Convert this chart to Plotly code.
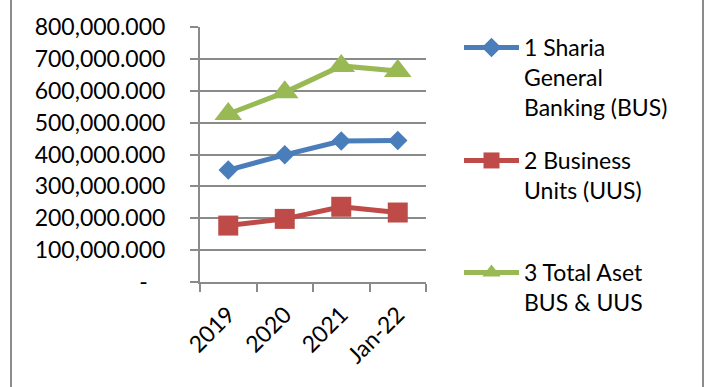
import plotly.graph_objects as go

categories = ["2019", "2020", "2021", "Jan-22"]
bus = [351e6, 399e6, 442e6, 444e6]
uus = [177e6, 198e6, 236e6, 218e6]
total = [527e6, 595e6, 678e6, 662e6]
series_names = ["1 Sharia<br>General<br>Banking (BUS)", "2 Business<br>Units (UUS)", "3 Total Aset<br>BUS & UUS"]
ytickvals = [0, 100e6, 200e6, 300e6, 400e6, 500e6, 600e6, 700e6, 800e6]
yticktext = ["-\u00a0\u00a0\u00a0", "100,000.000", "200,000.000", "300,000.000", "400,000.000",
             "500,000.000", "600,000.000", "700,000.000", "800,000.000"]

W, H = 707, 387
L, R, T, B = 200, 426, 27, 282
FONT = "Lato"
FS = 23
GRID = "#8a8a8a"

fig = go.Figure()
styles = [
    dict(color="#4a7ebb", symbol="diamond", size=15, legend="legend"),
    dict(color="#be4b48", symbol="square", size=20, legend="legend2"),
    dict(color="#98b954", symbol="triangle-up", size=24, legend="legend3"),
]
for vals, name, st in zip([bus, uus, total], series_names, styles):
    fig.add_trace(go.Scatter(
        x=categories, y=vals, name=name, mode="lines+markers",
        line=dict(color=st["color"], width=5),
        marker=dict(color=st["color"], symbol=st["symbol"], size=st["size"], line=dict(width=0)),
        legend=st["legend"], showlegend=True,
    ))

def leg(py):
    return dict(xref="container", yref="container", x=459 / W, y=1 - py / H,
                xanchor="left", yanchor="top", bgcolor="rgba(0,0,0,0)",
                font=dict(family=FONT, size=FS, color="#000"), valign="top",
                itemwidth=55, traceorder="normal")

fig.update_layout(
    width=W, height=H,
    margin=dict(l=L, r=W - R, t=T, b=H - B, pad=0),
    paper_bgcolor="white", plot_bgcolor="white",
    font=dict(family=FONT, size=FS, color="#000"),
    legend=leg(26),
    legend2=leg(139),
    legend3=leg(251),
    xaxis=dict(type="category", range=[-0.5, 3.5], showgrid=False,
               showline=True, linecolor=GRID, linewidth=2,
               ticks="outside", ticklen=8, tickwidth=2, tickcolor=GRID,
               tickson="boundaries", tickangle=-45, ticklabelstandoff=8,
               tickfont=dict(family=FONT, size=FS, color="#000")),
    yaxis=dict(range=[0, 800e6], tickvals=ytickvals, ticktext=yticktext,
               showgrid=True, gridcolor=GRID, gridwidth=2,
               showline=True, linecolor=GRID, linewidth=2, zeroline=False,
               ticks="outside", ticklen=8, tickwidth=2, tickcolor=GRID,
               ticklabelstandoff=20,
               tickfont=dict(family=FONT, size=FS, color="#000")),
    shapes=[
        dict(type="line", xref="paper", yref="paper",
             x0=(11 - L) / (R - L), x1=(11 - L) / (R - L), y0=-2, y1=2,
             line=dict(color="#8c8c8c", width=2)),
        dict(type="line", xref="paper", yref="paper",
             x0=(703 - L) / (R - L), x1=(703 - L) / (R - L), y0=-2, y1=2,
             line=dict(color="#8c8c8c", width=2)),
    ],
)

fig.write_html("out.html")
